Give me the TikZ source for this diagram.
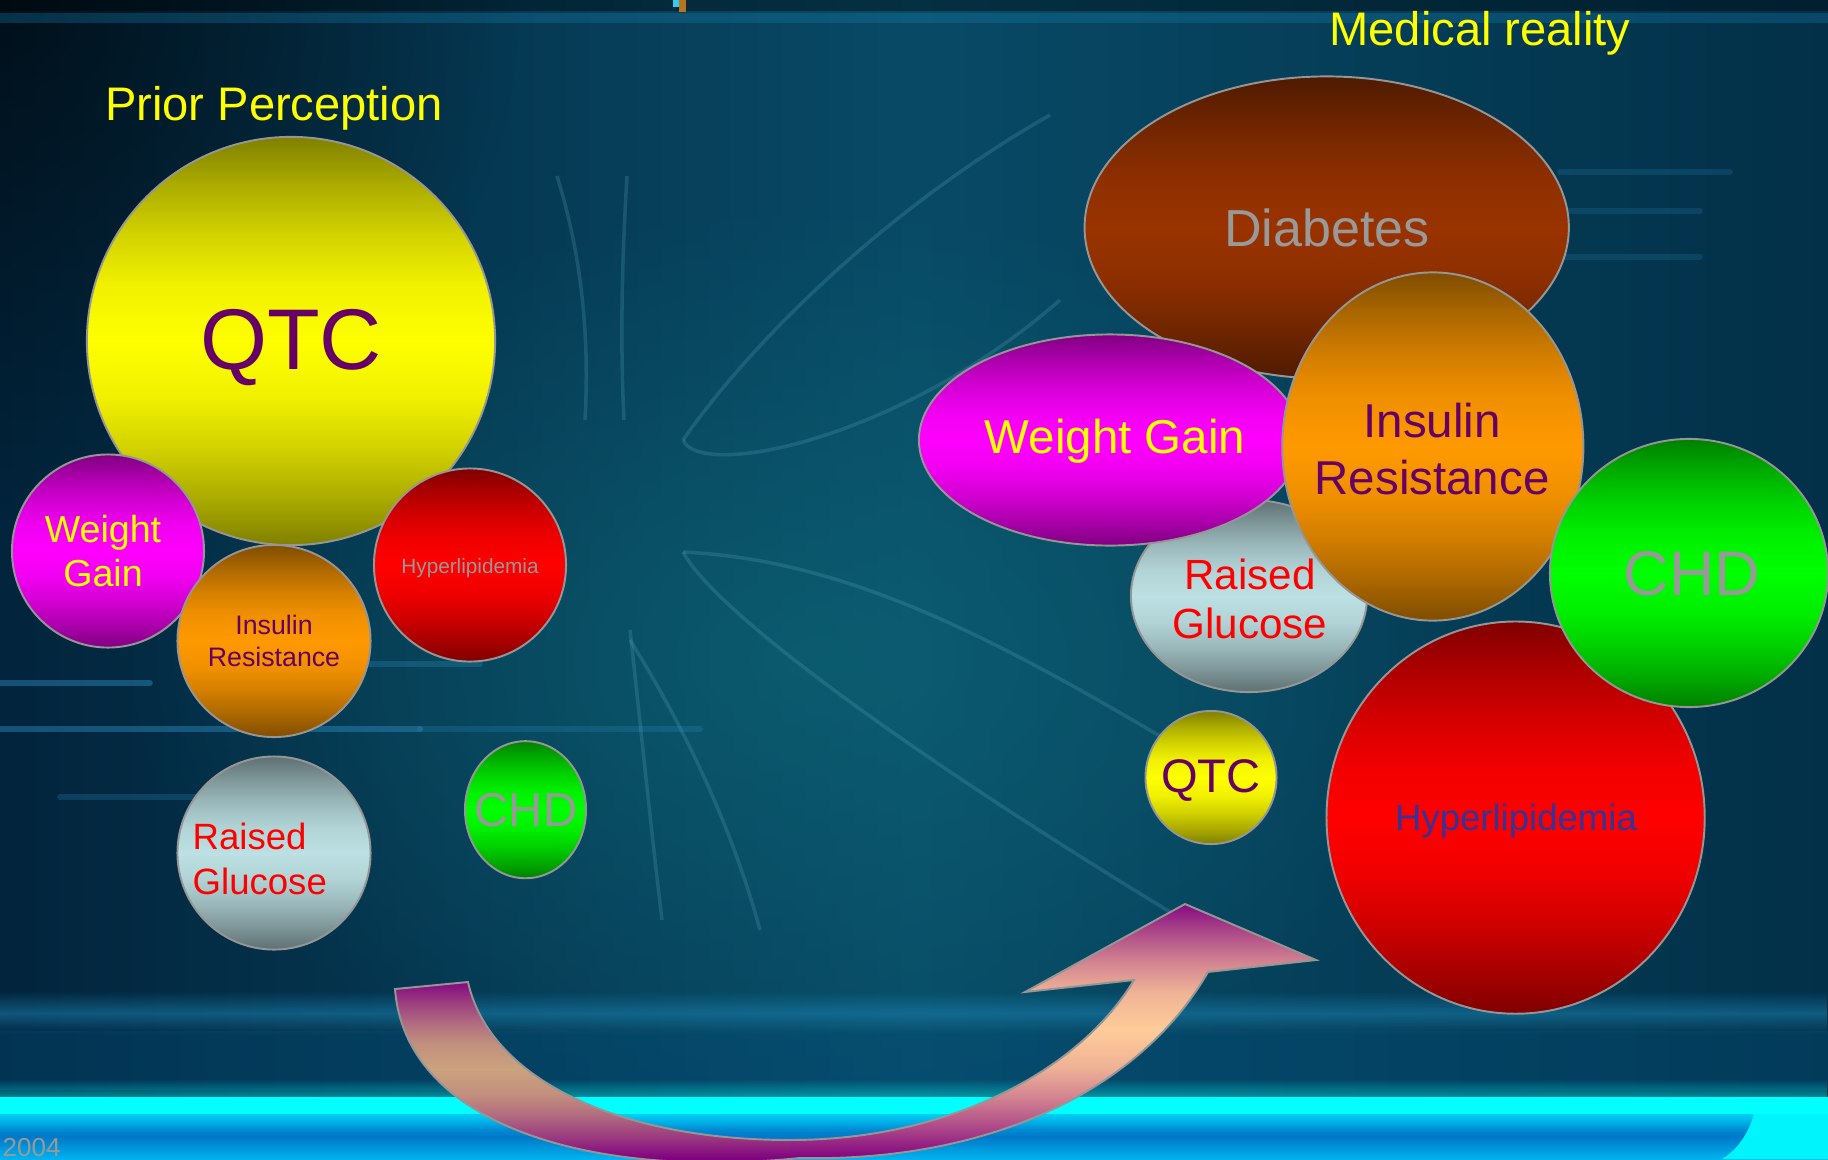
\documentclass[tikz,border=0pt]{standalone}
\usepackage{fontspec}
\setmainfont{Liberation Sans}
\usepackage{tikz}
\usetikzlibrary{shapes.geometric, fadings, positioning}

\definecolor{bgLeft}{HTML}{02243C}
\definecolor{bgMid}{HTML}{084A66}
\definecolor{bgRight}{HTML}{023048}
\definecolor{bgGlow}{HTML}{0E6A78}
\definecolor{streakBlue}{HTML}{2C8CC0}
\definecolor{petalLine}{HTML}{6AB8CC}
\definecolor{bandBlue}{HTML}{1A80B0}
\definecolor{floorDeep}{HTML}{03507E}
\definecolor{floorBlue}{HTML}{0078C8}
\definecolor{floorLight}{HTML}{00B4EE}
\definecolor{glowCyan}{HTML}{00FFFF}
\definecolor{markCyan}{HTML}{33CCEE}
\definecolor{markAmber}{HTML}{B8741A}
\definecolor{rimGray}{HTML}{969696}
\definecolor{titleYellow}{HTML}{FFFF00}
\definecolor{labelPurple}{HTML}{660066}
\definecolor{labelGray}{HTML}{999999}
\definecolor{labelRed}{HTML}{FF0000}
\definecolor{labelBlue}{HTML}{333399}
\definecolor{qtcDark}{HTML}{808000}
\definecolor{qtcLight}{HTML}{FFFF00}
\definecolor{gainDark}{HTML}{800080}
\definecolor{gainLight}{HTML}{FF00FF}
\definecolor{insDark}{HTML}{804D00}
\definecolor{insLight}{HTML}{FF9900}
\definecolor{lipDark}{HTML}{800000}
\definecolor{lipLight}{HTML}{FF0000}
\definecolor{gluDark}{HTML}{5E7072}
\definecolor{gluLight}{HTML}{BCE0E3}
\definecolor{chdDark}{HTML}{008000}
\definecolor{chdLight}{HTML}{00FF00}
\definecolor{diaDark}{HTML}{4D1A00}
\definecolor{diaLight}{HTML}{993300}
\definecolor{arrowPurple}{HTML}{800080}
\definecolor{arrowTan}{HTML}{CBA37E}
\definecolor{arrowPeach}{HTML}{FFCC99}

% rim -> core -> rim, with a wide bright middle
\colorlet{bubRim}{black}
\colorlet{bubCore}{white}
\pgfdeclareverticalshading[bubRim,bubCore]{glossbulb}{100bp}{%
  color(0bp)=(bubRim); color(25bp)=(bubRim);
  color(31bp)=(bubRim!65!bubCore); color(37bp)=(bubRim!35!bubCore);
  color(43bp)=(bubRim!12!bubCore); color(50bp)=(bubCore);
  color(57bp)=(bubRim!12!bubCore); color(63bp)=(bubRim!35!bubCore);
  color(69bp)=(bubRim!65!bubCore); color(75bp)=(bubRim); color(100bp)=(bubRim)}

\tikzfading[name=glowfade, inner color=transparent!0, outer color=transparent!100]
\tikzfading[name=bandfade, top color=transparent!100, bottom color=transparent!100, middle color=transparent!0]

\tikzset{
  bubble/.style={
    ellipse, draw=rimGray, line width=0.55pt, inner sep=0pt
  },
  glossy/.code 2 args={%
    \colorlet{bubRim}{#1}\colorlet{bubCore}{#2}%
    \pgfkeysalso{shade, shading=glossbulb}},
  fsz/.style 2 args={font=\fontsize{#1}{#2}\selectfont},
  tag/.style={inner sep=0pt, align=center},
  heading/.style={text=titleYellow, fsz={13.4}{16}, inner sep=0pt},
  streak/.style={streakBlue, line width=1.6pt, line cap=round, opacity=0.45},
  petal/.style={petalLine, line width=1pt, opacity=0.2}
}

\begin{document}
\begin{tikzpicture}[x=0.01cm, y=0.01cm]
  \useasboundingbox (0,0) rectangle (1828,1159);
  \clip (0,0) rectangle (1828,1159);

  % backdrop
  \fill[left color=bgLeft, right color=bgRight, middle color=bgMid] (0,0) rectangle (1828,1159);
  \fill[bgGlow, opacity=0.6, path fading=glowfade] (820,500) ellipse [x radius=700, y radius=460];
  \fill[black, opacity=0.55, path fading=glowfade] (0,1159) ellipse [x radius=520, y radius=520];
  \fill[black, opacity=0.35] (0,1148) rectangle (1828,1159);
  \fill[bandBlue, opacity=0.3] (0,1136) rectangle (1828,1146);
  \fill[markCyan] (673,1152) rectangle (680,1159);
  \fill[markAmber] (679,1147) rectangle (686,1159);

  % light streaks
  \draw[streak] (0,476) -- (150,476);
  \draw[streak] (0,430) -- (420,430);
  \draw[streak, opacity=0.25] (420,430) -- (700,430);
  \draw[streak, opacity=0.3] (330,495) -- (480,495);
  \draw[streak, opacity=0.25] (60,362) -- (330,362);
  \draw[streak, opacity=0.2] (1560,987) -- (1730,987);
  \draw[streak, opacity=0.2] (1560,948) -- (1700,948);
  \draw[streak, opacity=0.2] (1560,902) -- (1700,902);

  % petals
  \draw[petal] (1050,1044) .. controls (900,959) and (760,829) .. (683,719);
  \draw[petal] (683,719) .. controls (700,679) and (900,719) .. (1060,859);
  \draw[petal] (683,607) .. controls (850,599) and (1000,519) .. (1200,399);
  \draw[petal] (683,607) .. controls (720,539) and (950,379) .. (1200,229);
  \draw[petal] (557,983) .. controls (580,909) and (590,829) .. (585,739);
  \draw[petal] (627,983) .. controls (622,899) and (620,819) .. (624,739);
  \draw[petal] (630,529) .. controls (640,439) and (650,339) .. (662,239);
  \draw[petal] (630,519) .. controls (680,439) and (730,339) .. (760,229);

  % floor bands
  \fill[bandBlue, opacity=0.55, path fading=bandfade] (0,124) rectangle (1828,168);
  \fill[floorDeep, opacity=0.35] (0,69) rectangle (1828,128);
  \fill[top color=floorLight, bottom color=floorLight, middle color=floorBlue] (0,0) rectangle (1828,45);
  \fill[glowCyan, opacity=0.6, path fading=bandfade] (0,30) rectangle (1828,80);
  \fill[glowCyan] (0,45) rectangle (1828,62);
  \fill[glowCyan!85!floorLight] (1754,45) .. controls (1748,25) and (1738,10) .. (1722,0)
    -- (1828,0) -- (1828,45) -- cycle;

  % curved arrow
  \path[save path=\arrowoutline]
    (395,170) -- (468,177)
    .. controls (490,79) and (620,19) .. (790,19)
    .. controls (950,19) and (1080,89) .. (1134,179)
    -- (1025,167) -- (1185,255) -- (1316,199) -- (1208,187)
    .. controls (1140,69) and (990,-3) .. (800,1)
    .. controls (580,-21) and (405,39) .. (395,170) -- cycle;
  \begin{scope}
    \clip[use path=\arrowoutline];
    \fill[glossy={arrowPurple}{arrowTan}] (380,0) rectangle (790,180);
    \fill[glossy={arrowPurple}{arrowPeach}] (790,0) rectangle (1330,259);
  \end{scope}
  \draw[rimGray, line width=0.55pt, use path=\arrowoutline];

  % prior perception
  \node[heading, anchor=base] (priorHead) at (274,1039) {Prior Perception};

  \node[bubble, glossy={qtcDark}{qtcLight}, minimum width=4.08cm, minimum height=4.08cm] (qtcL) at (291,818) {};
  \node[bubble, glossy={gainDark}{gainLight}, minimum width=1.92cm, minimum height=1.93cm] (gainL) at (108,608) {};
  \node[bubble, glossy={lipDark}{lipLight}, minimum width=1.92cm, minimum height=1.93cm] (lipL) at (470,594) {};
  \node[bubble, glossy={insDark}{insLight}, minimum width=1.93cm, minimum height=1.92cm] (insL) at (274,518) {};
  \node[bubble, glossy={gluDark}{gluLight}, minimum width=1.93cm, minimum height=1.93cm] (gluL) at (274,306) {};
  \node[bubble, glossy={chdDark}{chdLight}, minimum width=1.21cm, minimum height=1.37cm] (chdL) at (525.5,349.3) {};

  \node[tag, text=labelPurple, fsz={24.5}{29}] (qtcLtext) at (291,811) {QTC};
  \node[tag, text=titleYellow, fsz={10.7}{12.6}] (gainLtext) at (103,608) {Weight\\Gain};
  \node[tag, text=labelGray, fsz={5.9}{7}] (lipLtext) at (470,591) {Hyperlipidemia};
  \node[tag, text=labelPurple, fsz={7.6}{9.1}] (insLtext) at (274,518) {Insulin\\Resistance};
  \node[tag, text=labelRed, fsz={10.4}{12.8}, align=left, anchor=west] (gluLtext) at (192,300.5) {Raised\\Glucose};
  \node[tag, text=labelGray, fsz={13.5}{16}] (chdLtext) at (526,349) {CHD};

  % medical reality
  \node[heading, anchor=base] (realityHead) at (1480,1114) {Medical reality};

  \node[bubble, glossy={diaDark}{diaLight}, minimum width=4.84cm, minimum height=3.02cm] (diaR) at (1326.7,931.5) {};
  \node[bubble, glossy={gluDark}{gluLight}, minimum width=2.36cm, minimum height=1.92cm] (gluR) at (1249,563) {};
  \node[bubble, glossy={gainDark}{gainLight}, minimum width=3.82cm, minimum height=2.11cm] (gainR) at (1110,719) {};
  \node[bubble, glossy={insDark}{insLight}, minimum width=3.01cm, minimum height=3.48cm] (insR) at (1432.8,712.5) {};
  \node[bubble, glossy={lipDark}{lipLight}, minimum width=3.78cm, minimum height=3.92cm] (lipR) at (1515.6,341.4) {};
  \node[bubble, glossy={chdDark}{chdLight}, minimum width=2.78cm, minimum height=2.68cm] (chdR) at (1689,586) {};
  \node[bubble, glossy={qtcDark}{qtcLight}, minimum width=1.31cm, minimum height=1.33cm] (qtcR) at (1211,381.5) {};

  \node[tag, text=labelGray, fsz={14.8}{17.8}] (diaRtext) at (1327,931.5) {Diabetes};
  \node[tag, text=labelRed, fsz={12}{13.8}] (gluRtext) at (1250,560) {Raised\\Glucose};
  \node[tag, text=titleYellow, fsz={13.5}{16}] (gainRtext) at (1115,718) {Weight Gain};
  \node[tag, text=labelPurple, fsz={13.5}{16.2}] (insRtext) at (1432,709.5) {Insulin\\Resistance};
  \node[tag, text=labelBlue, fsz={10.4}{12.5}] (lipRtext) at (1516,337.5) {Hyperlipidemia};
  \node[tag, text=labelGray, fsz={17.9}{21.5}] (chdRtext) at (1692,585) {CHD};
  \node[tag, text=labelPurple, fsz={13.4}{16}] (qtcRtext) at (1211,378.5) {QTC};

  \node[text=labelGray, fsz={7.4}{9}, anchor=base west, inner sep=0pt] (yearMark) at (2,3) {2004};
\end{tikzpicture}
\end{document}
